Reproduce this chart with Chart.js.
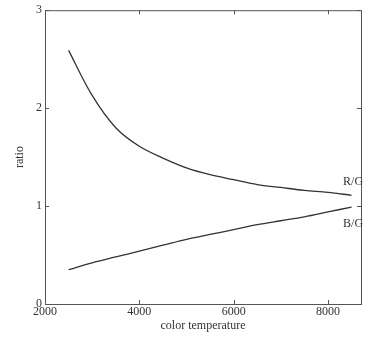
<!DOCTYPE html>
<html>
<head>
<meta charset="utf-8">
<script src="https://cdn.jsdelivr.net/npm/chart.js@4"></script>
<style>
  html, body { margin: 0; padding: 0; background: #fff; }
  #wrap { width: 365px; height: 341px; }
</style>
</head>
<body>
<div id="wrap"><canvas id="chart" width="365" height="341"></canvas></div>
<script>
// color temperature (K)
const temps = [2500, 3000, 3500, 4000, 4500, 5000, 5500, 6000, 6500, 7000, 7500, 8000, 8500];
// R/G ratio
const rgRatio = [2.59, 2.13, 1.80, 1.61, 1.49, 1.39, 1.32, 1.27, 1.22, 1.19, 1.16, 1.14, 1.11];
// B/G ratio
const bgRatio = [0.35, 0.42, 0.48, 0.54, 0.60, 0.66, 0.71, 0.76, 0.81, 0.85, 0.89, 0.94, 0.99];

const xTicks = [2000, 4000, 6000, 8000];
const yTicks = [0, 1, 2, 3];

// curve labels, placed in data units
const curveLabels = [
  { text: "R/G", x: 8320, y: 1.25 },
  { text: "B/G", x: 8320, y: 0.82 },
];

const FONT = "'Liberation Serif', 'DejaVu Serif', serif";
const INK = "#333";

const toPoints = ys => temps.map((t, i) => ({ x: t, y: ys[i] }));

// box around the plot, inward ticks, curve labels
const framePlugin = {
  id: "frame",
  afterDraw(chart) {
    const { ctx, chartArea: a, scales } = chart;
    ctx.save();
    ctx.strokeStyle = "#555";
    ctx.lineWidth = 1;
    ctx.strokeRect(a.left + 0.5, a.top + 0.5, a.right - a.left, a.bottom - a.top);

    ctx.beginPath();
    for (const v of xTicks) {
      const px = Math.round(scales.x.getPixelForValue(v)) + 0.5;
      ctx.moveTo(px, a.bottom); ctx.lineTo(px, a.bottom - 4);
      ctx.moveTo(px, a.top); ctx.lineTo(px, a.top + 4);
    }
    for (const v of yTicks) {
      const py = Math.round(scales.y.getPixelForValue(v)) + 0.5;
      ctx.moveTo(a.left, py); ctx.lineTo(a.left + 4, py);
      ctx.moveTo(a.right, py); ctx.lineTo(a.right - 4, py);
    }
    ctx.stroke();

    ctx.fillStyle = INK;
    ctx.font = "12px " + FONT;
    ctx.textAlign = "left";
    ctx.textBaseline = "middle";
    for (const l of curveLabels) {
      ctx.fillText(l.text, scales.x.getPixelForValue(l.x), scales.y.getPixelForValue(l.y));
    }
    ctx.restore();
  }
};

const line = data => ({
  data,
  borderColor: INK,
  borderWidth: 1.3,
  pointRadius: 0,
  tension: 0.35,
  fill: false,
});

new Chart(document.getElementById("chart"), {
  type: "line",
  data: {
    datasets: [
      { label: "R/G", ...line(toPoints(rgRatio)) },
      { label: "B/G", ...line(toPoints(bgRatio)) },
    ]
  },
  options: {
    responsive: false,
    animation: false,
    layout: { padding: { top: 7, right: 4, left: 13, bottom: 8 } },
    plugins: {
      legend: { display: false },
      tooltip: { enabled: false },
    },
    scales: {
      x: {
        type: "linear",
        min: 2000,
        max: 8700,
        afterBuildTicks: s => { s.ticks = xTicks.map(value => ({ value })); },
        afterFit: s => { s.height = 29; },
        grid: { display: false, drawTicks: false },
        border: { display: false },
        ticks: {
          color: INK,
          font: { family: FONT, size: 12 },
          padding: 1,
          maxRotation: 0,
          callback: v => String(v),
        },
        title: {
          display: true,
          text: "color temperature",
          color: INK,
          font: { family: FONT, size: 12 },
          padding: { top: 0, bottom: 0 },
        }
      },
      y: {
        min: 0,
        max: 3,
        afterBuildTicks: s => { s.ticks = yTicks.map(value => ({ value })); },
        afterFit: s => { s.width = 32; },
        grid: { display: false, drawTicks: false },
        border: { display: false },
        ticks: {
          color: INK,
          font: { family: FONT, size: 12 },
          padding: 3,
          callback: v => String(v),
        },
        title: {
          display: true,
          text: "ratio",
          color: INK,
          font: { family: FONT, size: 12 },
          padding: { top: 0, bottom: 0 },
        }
      }
    }
  },
  plugins: [framePlugin]
});
</script>
</body>
</html>
